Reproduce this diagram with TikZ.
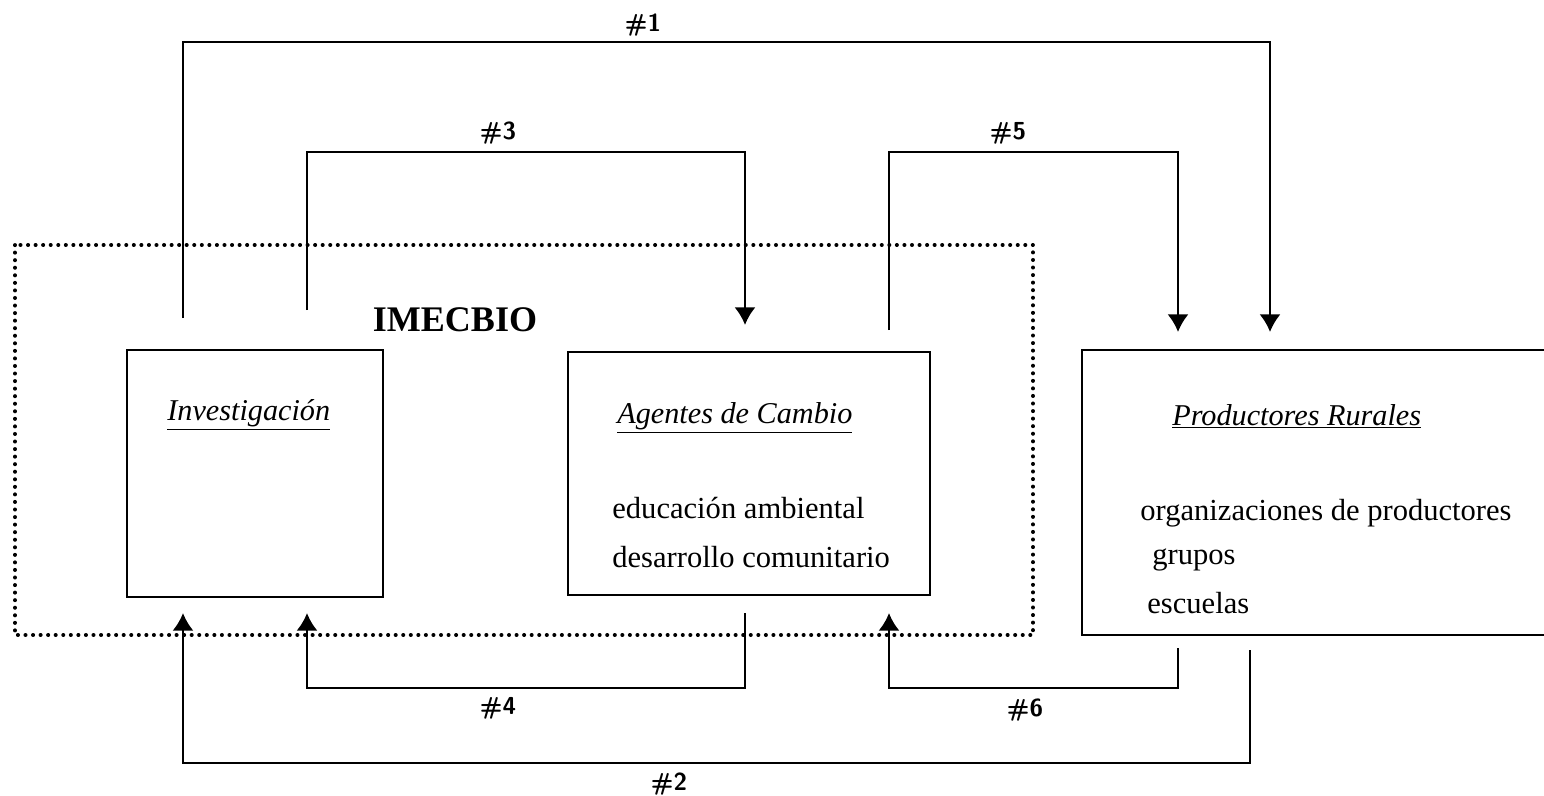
\documentclass[tikz,border=0pt]{standalone}
\usepackage{fontspec}
\setmainfont{Liberation Serif}
\usetikzlibrary{arrows.meta}
\tikzset{
  caja/.style={draw, line width=1.5pt, inner sep=0pt},
  marco/.style={line width=2.2pt, dash pattern=on 0.1pt off 4.2pt, line cap=round},
  flecha/.style={line width=1.5pt, -{Latex[length=10pt,width=12pt]}},
  titulo/.style={font=\bfseries\fontsize{20.5}{22}\selectfont, inner sep=0pt},
  nombre/.style={font=\itshape\fontsize{17.2}{20}\selectfont, anchor=base west, inner sep=0pt},
  texto/.style={font=\fontsize{17.4}{20}\selectfont, anchor=base west, inner sep=0pt},
  etiq/.style={font=\sffamily\bfseries\fontsize{14}{14}\selectfont, inner sep=0pt}
}
\begin{document}
\begin{tikzpicture}[x=0.02cm,y=-0.02cm]
  \useasboundingbox (0,0) rectangle (1544,795);

  % marco punteado
  \draw[marco] (15,245) rectangle (1033,635);
  \node[titulo] (imecbio) at (455,320) {IMECBIO};

  % cajas
  \node[caja, minimum width=5.12cm, minimum height=4.94cm] (inv) at (255,473.5) {};
  \node[caja, minimum width=7.24cm, minimum height=4.86cm] (age) at (749,473.5) {};
  \node[caja, minimum width=10.4cm, minimum height=5.7cm] (pro) at (1342,492.5) {};

  \node[nombre] (invtit) at (167,420) {\underline{Investigación}};
  \node[nombre] (agetit) at (617,423) {\underline{Agentes de Cambio}};
  \node[texto] (age1) at (612,518) {educación ambiental};
  \node[texto] (age2) at (612,567) {desarrollo comunitario};
  \node[nombre] (protit) at (1172,425) {\underline{Productores Rurales}};
  \node[texto] (pro1) at (1140,520) {organizaciones de productores};
  \node[texto] (pro2) at (1152,564) {grupos};
  \node[texto] (pro3) at (1147,613) {escuelas};

  % extremos de las flechas
  \coordinate (s1) at (183,318);  \coordinate (t1) at (1270,332);
  \coordinate (s2) at (1250,650); \coordinate (t2) at (183,613);
  \coordinate (s3) at (307,310);  \coordinate (t3) at (745,325);
  \coordinate (s4) at (745,613);  \coordinate (t4) at (307,613);
  \coordinate (s5) at (889,330);  \coordinate (t5) at (1178,332);
  \coordinate (s6) at (1178,648); \coordinate (t6) at (889,613);

  \draw[flecha] (s1) -- ++(0,-276) -| (t1);
  \draw[flecha] (s2) -- ++(0,113) -| (t2);
  \draw[flecha] (s3) -- ++(0,-158) -| (t3);
  \draw[flecha] (s4) -- ++(0,75) -| (t4);
  \draw[flecha] (s5) -- ++(0,-178) -| (t5);
  \draw[flecha] (s6) -- ++(0,40) -| (t6);

  \node[etiq] (n1) at (643,25) {\#1};
  \node[etiq] (n2) at (669,784) {\#2};
  \node[etiq] (n3) at (498,133) {\#3};
  \node[etiq] (n4) at (498,708) {\#4};
  \node[etiq] (n5) at (1008,133) {\#5};
  \node[etiq] (n6) at (1025,710) {\#6};
\end{tikzpicture}
\end{document}
